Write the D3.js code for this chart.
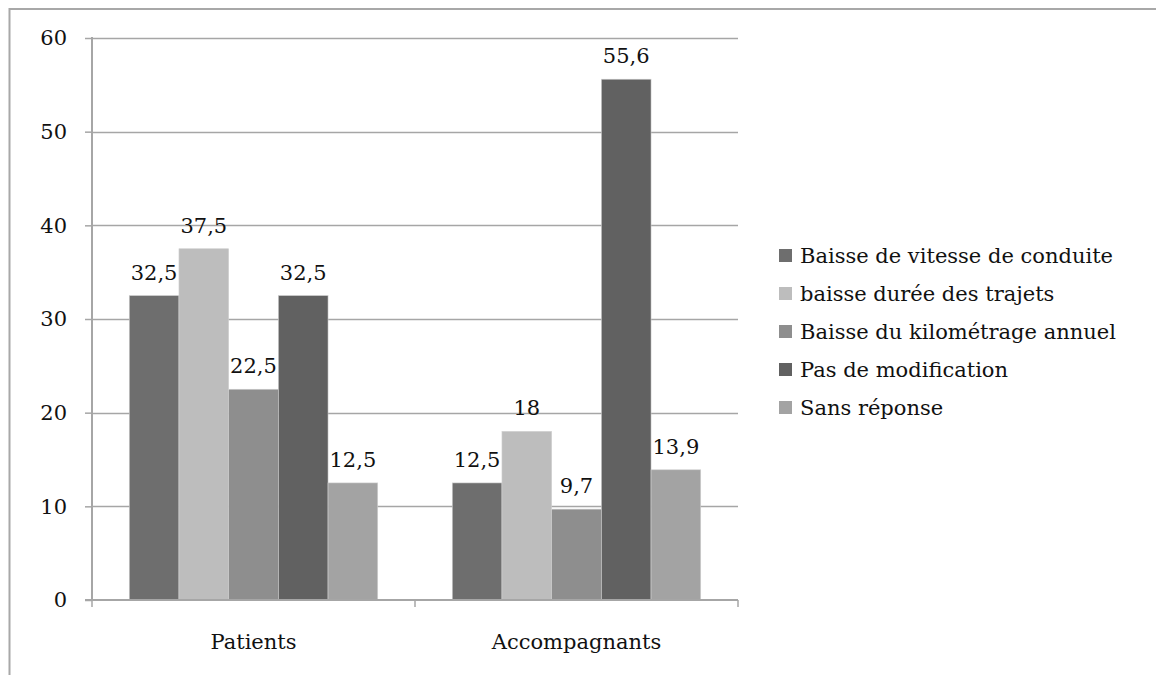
<!DOCTYPE html>
<html>
<head>
<meta charset="utf-8">
<script src="https://cdn.jsdelivr.net/npm/d3@7"></script>
<style>
  html, body { margin: 0; padding: 0; background: #fff; }
  svg { display: block; }
  svg text { font-family: "DejaVu Serif", "Liberation Serif", serif; fill: #111; }
</style>
</head>
<body>
<svg id="chart" width="1156" height="675"></svg>
<script>
// Groups along the x axis
const categories = ["Patients", "Accompagnants"];
// One series per legend entry
const seriesNames = [
  "Baisse de vitesse de conduite",
  "baisse durée des trajets",
  "Baisse du kilométrage annuel",
  "Pas de modification",
  "Sans réponse"
];
const seriesColors = ["#6e6e6e", "#bdbdbd", "#8e8e8e", "#616161", "#a3a3a3"];
// Values per series, in category order
const vitesse = [32.5, 12.5];
const duree = [37.5, 18];
const kilometrage = [22.5, 9.7];
const pasModif = [32.5, 55.6];
const sansReponse = [12.5, 13.9];
const seriesValues = [vitesse, duree, kilometrage, pasModif, sansReponse];
const yTicks = [0, 10, 20, 30, 40, 50, 60];

const FONT = "DejaVu Serif, Liberation Serif, serif";
const FS = 21;

const svg = d3.select("#chart");

// Outer frame (top and left edges visible)
svg.append("line").attr("x1", 9.5).attr("x2", 1156).attr("y1", 9).attr("y2", 9)
  .attr("stroke", "#a8a8a8").attr("stroke-width", 2);
svg.append("line").attr("x1", 9.5).attr("x2", 9.5).attr("y1", 8).attr("y2", 675)
  .attr("stroke", "#a8a8a8").attr("stroke-width", 2);

const plotLeft = 92, plotRight = 738, plotTop = 38, plotBottom = 600;

const x = d3.scaleBand().domain(categories).range([plotLeft, plotRight]);
const xInner = d3.scaleBand().domain(d3.range(seriesNames.length))
  .range([0, x.bandwidth()]).paddingOuter(0.75);
const y = d3.scaleLinear().domain([0, 60]).range([plotBottom, plotTop]);

// Horizontal gridlines
svg.append("g").selectAll("line").data(yTicks.filter(d => d > 0)).join("line")
  .attr("x1", plotLeft).attr("x2", plotRight)
  .attr("y1", d => Math.round(y(d)) + 0.5).attr("y2", d => Math.round(y(d)) + 0.5)
  .attr("stroke", "#a6a6a6").attr("stroke-width", 1.5);

// Bars with value labels
const groups = svg.append("g").selectAll("g").data(categories).join("g")
  .attr("transform", c => `translate(${x(c)},0)`);
groups.each(function(c, ci) {
  const g = d3.select(this);
  seriesValues.forEach((vals, si) => {
    const v = vals[ci];
    g.append("rect")
      .attr("x", xInner(si)).attr("width", xInner.bandwidth())
      .attr("y", y(v)).attr("height", y(0) - y(v))
      .attr("fill", seriesColors[si])
      .attr("stroke", "#d0d0d0").attr("stroke-width", 0.6);
    g.append("text")
      .attr("x", xInner(si) + xInner.bandwidth() / 2)
      .attr("y", y(v) - 16)
      .attr("text-anchor", "middle")
      .attr("font-size", FS)
      .text(String(v).replace(".", ","));
  });
});

// Y axis
const yAxis = svg.append("g").attr("transform", `translate(${plotLeft},0)`)
  .call(d3.axisLeft(y).tickValues(yTicks).tickSize(7).tickPadding(18).tickFormat(d3.format("d")));
yAxis.select(".domain").attr("stroke", "#a6a6a6").attr("stroke-width", 2)
  .attr("d", `M0,${plotTop - 1}V${plotBottom}`);
yAxis.selectAll(".tick line").attr("stroke", "#a6a6a6").attr("stroke-width", 1.5);
yAxis.selectAll(".tick text").attr("font-size", FS).attr("fill", "#111")
  .style("font-family", FONT);

// X axis
const xAxis = svg.append("g").attr("transform", `translate(0,${plotBottom})`)
  .call(d3.axisBottom(x).tickSize(0).tickPadding(34));
xAxis.select(".domain").attr("stroke", "#a6a6a6").attr("stroke-width", 2)
  .attr("d", `M${plotLeft - 7},0H${plotRight}`);
xAxis.selectAll(".tick text").attr("font-size", FS).attr("fill", "#111")
  .style("font-family", FONT);
// Category separators
svg.append("g").selectAll("line")
  .data([plotLeft, x(categories[1]), plotRight]).join("line")
  .attr("x1", d => d).attr("x2", d => d)
  .attr("y1", plotBottom).attr("y2", plotBottom + 7)
  .attr("stroke", "#a6a6a6").attr("stroke-width", 1.5);

// Legend
const legend = svg.append("g").attr("transform", "translate(779,255)");
const rows = legend.selectAll("g").data(seriesNames).join("g")
  .attr("transform", (d, i) => `translate(0,${i * 38})`);
rows.append("rect").attr("x", 0).attr("y", -6).attr("width", 13).attr("height", 13)
  .attr("fill", (d, i) => seriesColors[i]);
rows.append("text").attr("x", 21).attr("y", 8).attr("font-size", FS).text(d => d);
</script>
</body>
</html>
